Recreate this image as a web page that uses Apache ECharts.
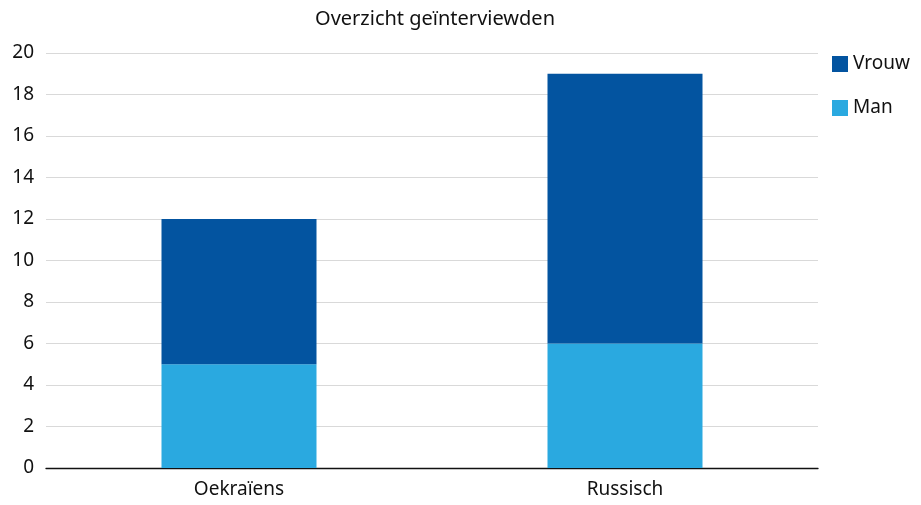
<!DOCTYPE html>
<html><head><meta charset="utf-8">
<script src="https://cdn.jsdelivr.net/npm/echarts@6/dist/echarts.min.js"></script>
<style>html,body{margin:0;padding:0;background:#fff}#c{width:921px;height:505px}</style>
</head><body><div id="c"></div>
<script>
var categories = ['Oekraïens', 'Russisch'];
var manValues = [5, 6];
var vrouwValues = [7, 13];
var titleText = 'Overzicht geïnterviewden';
var fontFam = '"Noto Sans", sans-serif';
var chart = echarts.init(document.getElementById('c'), null, {renderer: 'canvas'});
chart.setOption({
  animation: false,
  title: {text: titleText, left: 430, top: 4, textAlign: 'center',
    textStyle: {fontFamily: fontFam, fontSize: 20, fontWeight: 'normal', color: '#111'}},
  legend: {orient: 'vertical', left: 827, top: 47, itemWidth: 16, itemHeight: 16, itemGap: 20,
    icon: 'rect', data: ['Vrouw', 'Man'],
    textStyle: {fontFamily: fontFam, fontSize: 19, color: '#111', padding: [0,0,0,0], height: 24, lineHeight: 24}},
  grid: {left: 46, right: 103, top: 53, bottom: 37},
  xAxis: {type: 'category', data: categories,
    axisLine: {lineStyle: {color: '#111', width: 1.3}}, axisTick: {show: false},
    axisLabel: {fontFamily: fontFam, fontSize: 19, color: '#111', margin: 12}},
  yAxis: {type: 'value', min: 0, max: 20, interval: 2,
    axisLine: {show: false}, axisTick: {show: false},
    splitLine: {lineStyle: {color: '#d9d9d9', width: 1}},
    axisLabel: {fontFamily: fontFam, fontSize: 19, color: '#111', margin: 12}},
  series: [
    {name: 'Man', type: 'bar', stack: 'a', data: manValues, barWidth: 155, itemStyle: {color: '#2aa9e0'}},
    {name: 'Vrouw', type: 'bar', stack: 'a', data: vrouwValues, barWidth: 155, itemStyle: {color: '#0354a0'}}
  ]
});
</script></body></html>
